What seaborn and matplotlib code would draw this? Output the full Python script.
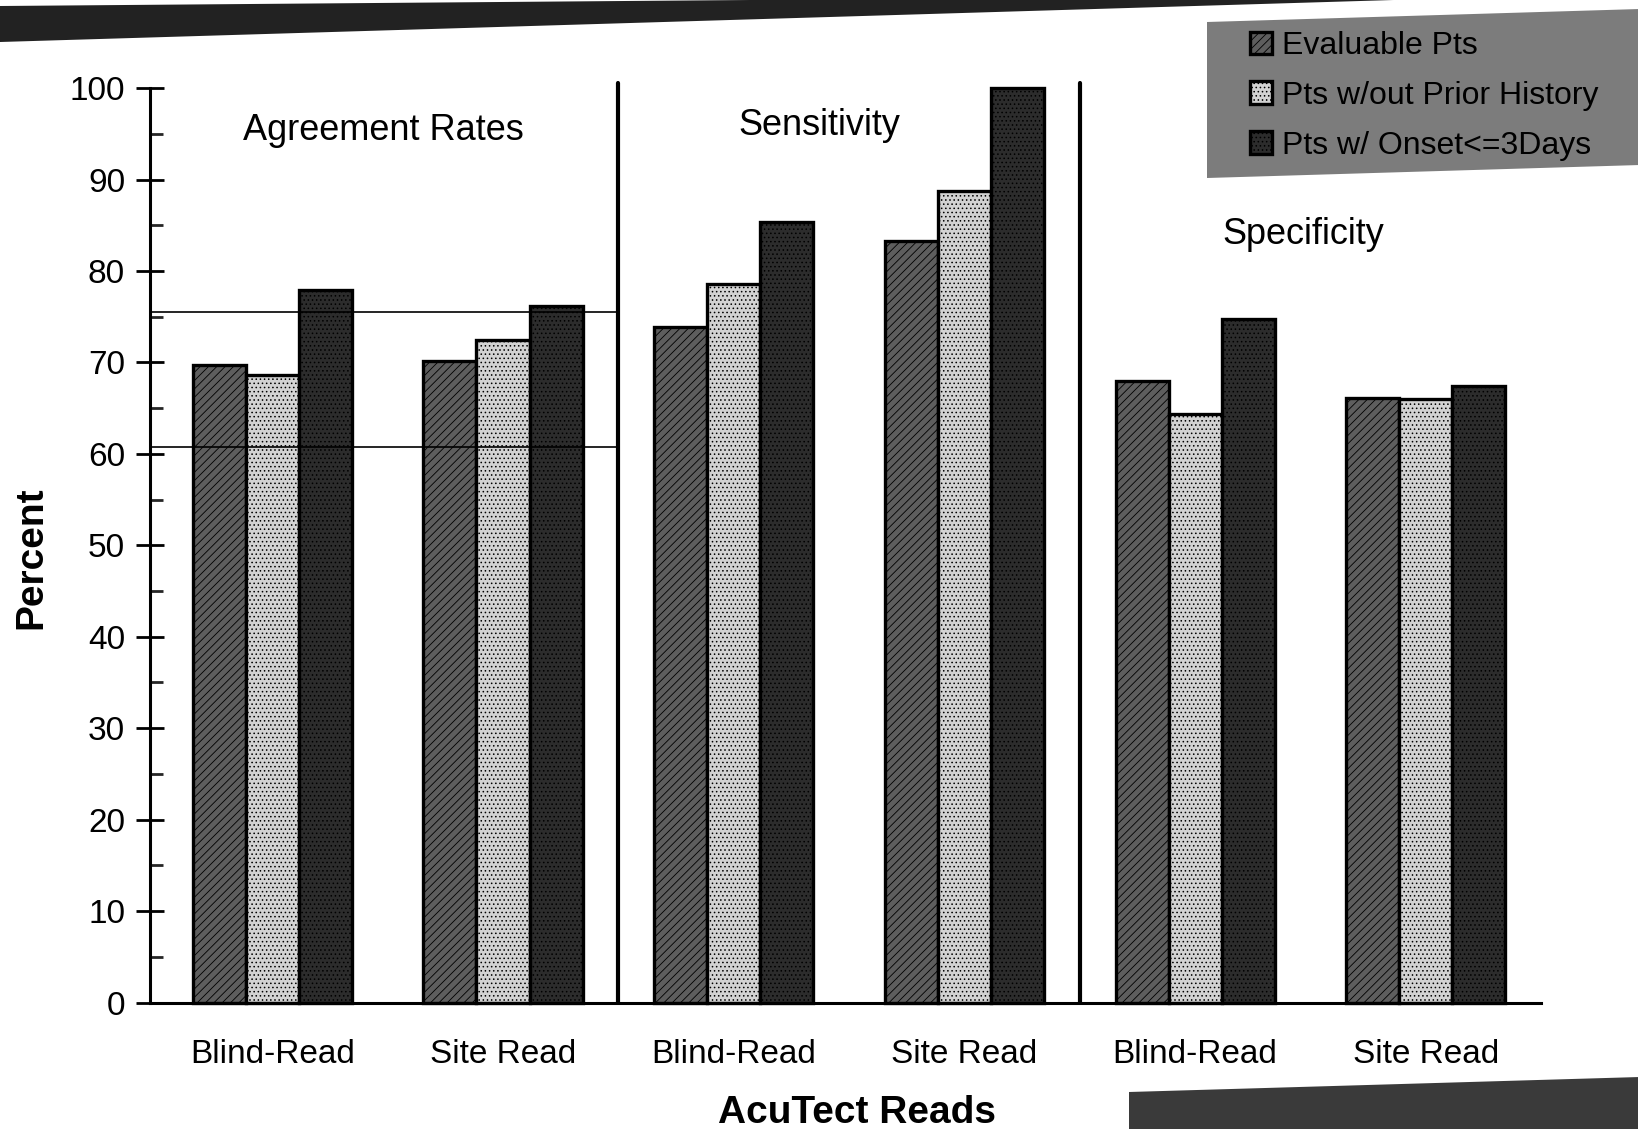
import numpy as np
import pandas as pd
import matplotlib
matplotlib.use("Agg")
import matplotlib.pyplot as plt
from matplotlib.patches import Polygon
import seaborn as sns

# ---- data -------------------------------------------------------------
sections = ["Agreement Rates", "Sensitivity", "Specificity"]
read_labels = ["Blind-Read", "Site Read", "Blind-Read", "Site Read", "Blind-Read", "Site Read"]
series_names = ["Evaluable Pts", "Pts w/out Prior History", "Pts w/ Onset<=3Days"]

evaluable = [69.7, 70.2, 73.9, 83.3, 68.0, 66.1]
no_prior = [68.6, 72.5, 78.6, 88.7, 64.4, 66.0]
onset_3d = [77.9, 76.2, 85.4, 100.0, 74.8, 67.4]

# reference levels drawn across the agreement-rate panel
agreement_refs = [75.5, 60.8]

group_keys = [f"{s} | {r}" for s in sections for r in ["Blind-Read", "Site Read"]]
df = pd.DataFrame({
    "group": group_keys * 3,
    "series": np.repeat(series_names, len(group_keys)),
    "value": evaluable + no_prior + onset_3d,
})

# ---- style ------------------------------------------------------------
sns.set_theme(style="white")
plt.rcParams["font.family"] = ["Liberation Sans", "DejaVu Sans"]
plt.rcParams["hatch.linewidth"] = 0.6

fills = ["#5e5e5e", "#d2d2d2", "#2c2c2c"]
hatches = ["////", "....", "...."]

fig = plt.figure(figsize=(16.38, 11.29), dpi=100)
fig.patch.set_facecolor("white")
ax = fig.add_axes([0.0916, 0.112, 0.8493, 0.810])

sns.barplot(data=df, x="group", y="value", hue="series", order=group_keys,
            hue_order=series_names, palette=fills, saturation=1, width=0.69,
            edgecolor="black", linewidth=2.4, legend=False, ax=ax)

for cont, h in zip(ax.containers, hatches):
    for p in cont.patches:
        p.set_hatch(h)
        p.set_clip_on(False)

# axes
ax.set_ylim(0, 100)
ax.set_xlim(-0.53, 5.5)
ax.set_xlabel("")
ax.set_ylabel("")
for side in ["top", "right"]:
    ax.spines[side].set_visible(False)
for side in ["left", "bottom"]:
    ax.spines[side].set_linewidth(2.2)
    ax.spines[side].set_color("black")

ax.set_yticks(np.arange(0, 101, 10))
ax.set_yticks(np.arange(5, 100, 10), minor=True)
ax.tick_params(axis="y", which="major", direction="inout", length=20, width=2,
               labelsize=24, pad=8, colors="black", left=True)
ax.tick_params(axis="y", which="minor", direction="in", length=9, width=2, left=True)
ax.set_xticks(range(len(group_keys)))
ax.set_xticklabels(read_labels)
ax.tick_params(axis="x", length=0, labelsize=24, pad=26, colors="black")

# panel separators
for xd in [1.5, 3.5]:
    ax.plot([xd, xd], [0, 100.5], color="black", lw=3, clip_on=False, zorder=4)

# reference levels over the first panel
for yv in agreement_refs:
    ax.plot([-0.53, 1.5], [yv, yv], color="black", lw=1.2, zorder=5)

# panel titles
ax.text(0.48, 95.4, sections[0], ha="center", va="center", fontsize=26, color="black")
ax.text(2.37, 95.9, sections[1], ha="center", va="center", fontsize=26, color="black")
ax.text(4.47, 84.0, sections[2], ha="center", va="center", fontsize=26, color="black")

# axis titles
ax.text(-0.0855, 0.487, "Percent", transform=ax.transAxes, rotation=90,
        ha="center", va="center", fontsize=28, fontweight="bold", color="black")
ax.text(0.508, -0.121, "AcuTect Reads", transform=ax.transAxes,
        ha="center", va="center", fontsize=28, fontweight="bold", color="black")

# legend panel
W, H = 1638.0, 1129.0
def fpt(x, y):
    return (x / W, 1 - y / H)

fig.patches.append(Polygon([fpt(1207, 22), fpt(1640, 9), fpt(1640, 165), fpt(1207, 178)],
                           closed=True, transform=fig.transFigure,
                           facecolor="#7c7c7c", edgecolor="none", zorder=0))
leg = fig.legend(handles=list(ax.containers), labels=series_names,
                 loc="upper left", bbox_to_anchor=fpt(1250, 31),
                 bbox_transform=fig.transFigure, frameon=False, fontsize=23,
                 handlelength=0.7, handleheight=0.7, handletextpad=0.3,
                 labelspacing=0.62, borderpad=0, borderaxespad=0)
for t in leg.get_texts():
    t.set_color("black")

# page edges
fig.patches.append(Polygon([fpt(0, 6), fpt(1000, -2), fpt(1460, -2), fpt(0, 42)],
                           closed=True, transform=fig.transFigure,
                           facecolor="#222222", edgecolor="none", zorder=0))
fig.patches.append(Polygon([fpt(1129, 1092), fpt(1640, 1077), fpt(1640, 1131), fpt(1129, 1131)],
                           closed=True, transform=fig.transFigure,
                           facecolor="#3a3a3a", edgecolor="none", zorder=0))

fig.savefig("out.png", dpi=100)
